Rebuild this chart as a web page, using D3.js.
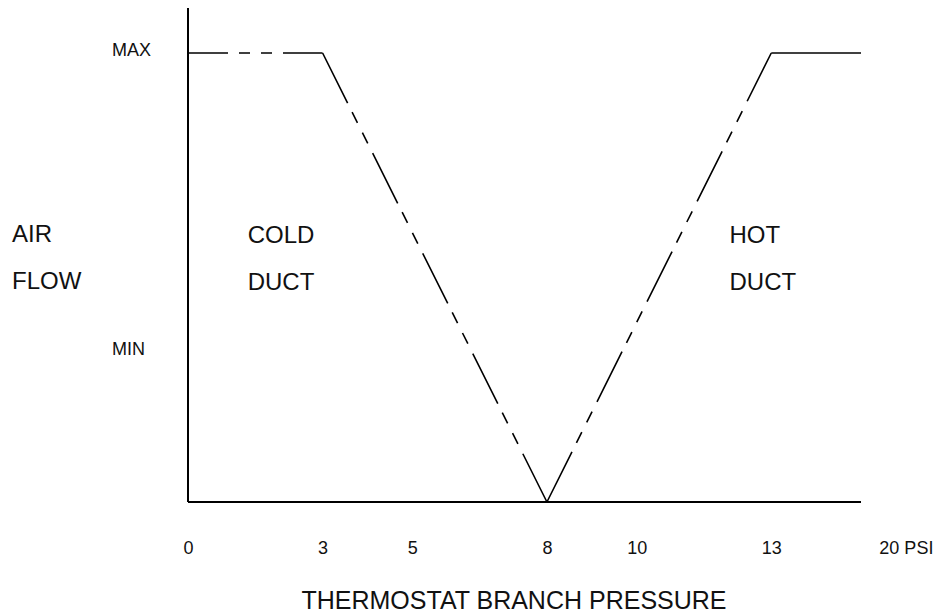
<!DOCTYPE html>
<html>
<head>
<meta charset="utf-8">
<script src="https://cdn.jsdelivr.net/npm/d3@7"></script>
<style>
  body { margin: 0; background: #fff; }
  svg text { font-family: "Liberation Sans", Arial, sans-serif; fill: #111; }
</style>
</head>
<body>
<div id="chart"></div>
<script>
// branch pressure ticks (last label sits one step past the axis end)
const pressureTicks = [0, 3, 5, 8, 10, 13, 16];
const pressureLabels = ["0", "3", "5", "8", "10", "13", "20 PSI"];

// air flow levels
const flowTicks = [3, 1];
const flowLabels = ["MAX", "MIN"];

// cold duct curve
const coldPressure = [0, 3, 8];
const coldFlow = [3, 3, 0];

// hot duct curve
const hotPressure = [8, 13, 15];
const hotFlow = [0, 3, 3];

const pressureMax = 15,
    flowTop = 3.3;

const width = 944,
    height = 616,
    margin = { left: 188, right: 83, top: 53, bottom: 114 };

const x = d3.scaleLinear()
    .domain([0, pressureMax])
    .range([margin.left, width - margin.right]);

const y = d3.scaleLinear()
    .domain([0, 3])
    .range([height - margin.bottom, margin.top]);

// dash patterns for each kind of segment
const dashes = {
    flat: "40,11,11,11,11,11,40",
    slope: "56,10,12,11,12,11",
    solid: null
};

function segments(px, py, kinds) {
    let out = [];
    for (let i = 0; i < px.length - 1; i++) {
        let a = [px[i], py[i]], b = [px[i + 1], py[i + 1]];
        out.push({ pts: [a, b], kind: kinds[i] });
    }
    return out;
}

const svg = d3.select("#chart").append("svg")
    .attr("width", width)
    .attr("height", height)
    .attr("viewBox", [0, 0, width, height]);

svg.append("rect")
    .attr("width", width)
    .attr("height", height)
    .attr("fill", "#fff");

// axis lines
svg.append("line")
    .attr("x1", x(0)).attr("x2", x(0))
    .attr("y1", y(0)).attr("y2", y(flowTop))
    .attr("stroke", "#000")
    .attr("stroke-width", 2);

svg.append("line")
    .attr("x1", x(0)).attr("x2", x(pressureMax))
    .attr("y1", y(0)).attr("y2", y(0))
    .attr("stroke", "#000")
    .attr("stroke-width", 2);

// tick labels
const xAxis = svg.append("g")
    .attr("transform", `translate(0,${y(0)})`)
    .call(d3.axisBottom(x)
        .tickValues(pressureTicks)
        .tickFormat((d, i) => pressureLabels[i])
        .tickSize(0)
        .tickPadding(39));
xAxis.select(".domain").remove();
xAxis.selectAll("text")
    .attr("font-size", 18)
    .attr("font-family", null);

const yAxis = svg.append("g")
    .attr("transform", `translate(${x(0)},0)`)
    .call(d3.axisLeft(y)
        .tickValues(flowTicks)
        .tickFormat((d, i) => flowLabels[i])
        .tickSize(0));
yAxis.select(".domain").remove();
yAxis.selectAll("text")
    .attr("x", -76)
    .attr("dy", "0.12em")
    .attr("text-anchor", "start")
    .attr("font-size", 18)
    .attr("font-family", null);

// curves
const line = d3.line().x(d => x(d[0])).y(d => y(d[1]));

const coldSegs = segments(coldPressure, coldFlow, ["flat", "slope"]);
// hot slope dashes start from the bottom point
const hotSegs = segments(hotPressure, hotFlow, ["slope", "solid"]);

svg.append("g")
    .selectAll("path")
    .data(coldSegs.concat(hotSegs))
    .enter()
    .append("path")
    .attr("d", d => line(d.pts))
    .attr("fill", "none")
    .attr("stroke", "#000")
    .attr("stroke-width", 1.6)
    .attr("stroke-dasharray", d => dashes[d.kind]);

// labels
const notes = [
    { text: "AIR", px: x.invert(12), fy: y.invert(242) },
    { text: "FLOW", px: x.invert(12), fy: y.invert(289) },
    { text: "COLD", px: 1.33, fy: y.invert(243) },
    { text: "DUCT", px: 1.33, fy: y.invert(290) },
    { text: "HOT", px: 12.07, fy: y.invert(243) },
    { text: "DUCT", px: 12.07, fy: y.invert(290) }
];

svg.append("g")
    .selectAll("text")
    .data(notes)
    .enter()
    .append("text")
    .attr("x", d => x(d.px))
    .attr("y", d => y(d.fy))
    .attr("font-size", 24)
    .text(d => d.text);

svg.append("text")
    .attr("x", 514)
    .attr("y", 609)
    .attr("text-anchor", "middle")
    .attr("font-size", 25)
    .text("THERMOSTAT BRANCH PRESSURE");
</script>
</body>
</html>
